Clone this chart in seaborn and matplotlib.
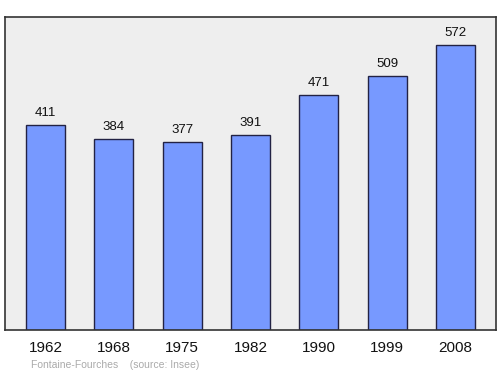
import matplotlib
matplotlib.use("Agg")
import matplotlib.pyplot as plt
import seaborn as sns
import pandas as pd

years = ["1962", "1968", "1975", "1982", "1990", "1999", "2008"]
population = [411, 384, 377, 391, 471, 509, 572]

df = pd.DataFrame({"year": years, "pop": population})

sns.set_style("white")
plt.rcParams['font.family'] = ['Liberation Sans', 'DejaVu Sans']

fig = plt.figure(figsize=(5, 3.74), dpi=100)
ax = fig.add_axes([5/500, 1-330/374, 491/500, 313/374])
ax.set_facecolor("#eeeeee")

sns.barplot(data=df, x="year", y="pop", color="#7799ff", saturation=1,
            width=0.57, edgecolor="#222244", linewidth=1.0, ax=ax)

for i, v in enumerate(population):
    ax.text(i, v + 12, str(v), ha="center", va="bottom", fontsize=9.5, color="#111111")

ax.set_xlim(-0.593, 6.593)
ax.set_ylim(0, 628)
ax.set_yticks([])
ax.set_xlabel("")
ax.set_ylabel("")
ax.tick_params(axis="x", length=0, pad=8, labelsize=11, colors="#111111")
for s in ax.spines.values():
    s.set_color("#333333")
    s.set_linewidth(1.2)
    s.set_visible(True)

fig.text(31/500, 1-365/374, "Fontaine-Fourches    (source: Insee)", fontsize=7.5,
         color="#aaaaaa", ha="left", va="center")

fig.savefig("out.png", dpi=100)
